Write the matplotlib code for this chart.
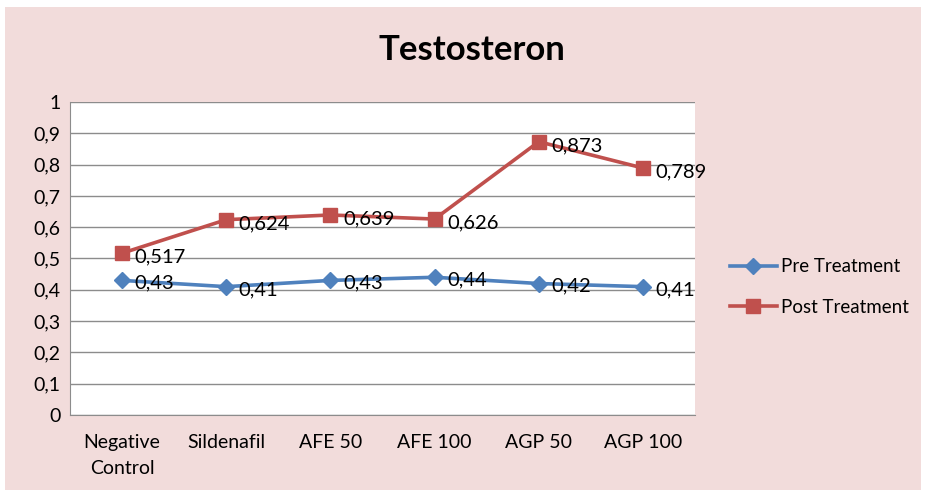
import matplotlib.pyplot as plt
from matplotlib.patches import Rectangle
import numpy as np

### DATA ###
categories = ['Negative\nControl', 'Sildenafil', 'AFE 50', 'AFE 100', 'AGP 50', 'AGP 100']
pre_treatment = [0.43, 0.41, 0.43, 0.44, 0.42, 0.41]
post_treatment = [0.517, 0.624, 0.639, 0.626, 0.873, 0.789]
y_ticks = [0, 0.1, 0.2, 0.3, 0.4, 0.5, 0.6, 0.7, 0.8, 0.9, 1.0]

blue = '#4F81BD'
red = '#C0504D'
pink = '#F2DCDB'

plt.rcParams['font.family'] = ['Lato', 'DejaVu Sans']

fig = plt.figure(figsize=(9.26, 4.95), dpi=100, facecolor='white')
# pink chart area with a thin white margin
fig.patches.append(Rectangle((0.005, 0.01), 0.99, 0.975, transform=fig.transFigure,
                             facecolor=pink, edgecolor='none', zorder=-10))

ax = fig.add_axes([0.0756, 0.1616, 0.675, 0.6324])
ax.set_facecolor('white')

x = np.arange(len(categories))
ax.plot(x, pre_treatment, color=blue, lw=2.6, marker='D', ms=8, label='Pre Treatment', zorder=3)
ax.plot(x, post_treatment, color=red, lw=2.6, marker='s', ms=10, label='Post Treatment', zorder=3)

def fmt(v):
    return ('%g' % v).replace('.', ',')

for xi, v in zip(x, pre_treatment):
    ax.annotate(fmt(v), (xi, v), xytext=(9, -2), textcoords='offset points',
                ha='left', va='center', fontsize=14.5, color='black', zorder=4)
for xi, v in zip(x, post_treatment):
    ax.annotate(fmt(v), (xi, v), xytext=(9, -3), textcoords='offset points',
                ha='left', va='center', fontsize=14.5, color='black', zorder=4)

ax.set_xlim(-0.5, len(categories) - 0.5)
ax.set_ylim(0, 1)
ax.set_yticks(y_ticks)
ax.set_yticklabels([fmt(t) for t in y_ticks], fontsize=14)
ax.set_xticks(x)
ax.set_xticklabels(categories, fontsize=14, linespacing=1.6)
ax.tick_params(axis='x', length=0, pad=14)
ax.tick_params(axis='y', length=0, pad=7)
ax.grid(axis='y', color='#8C8C8C', lw=1)
ax.set_axisbelow(True)
for s in ['top', 'right']:
    ax.spines[s].set_visible(False)
for s in ['left', 'bottom']:
    ax.spines[s].set_color('#8C8C8C')

fig.text(0.51, 0.898, 'Testosteron', ha='center', va='center', fontsize=25, fontweight='bold')

fig.legend(loc='center left', bbox_to_anchor=(0.77, 0.42), frameon=False, fontsize=13.5,
           handlelength=2.5, labelspacing=1.25, handletextpad=0.2)

fig.savefig('out.png', dpi=100, facecolor='white')
